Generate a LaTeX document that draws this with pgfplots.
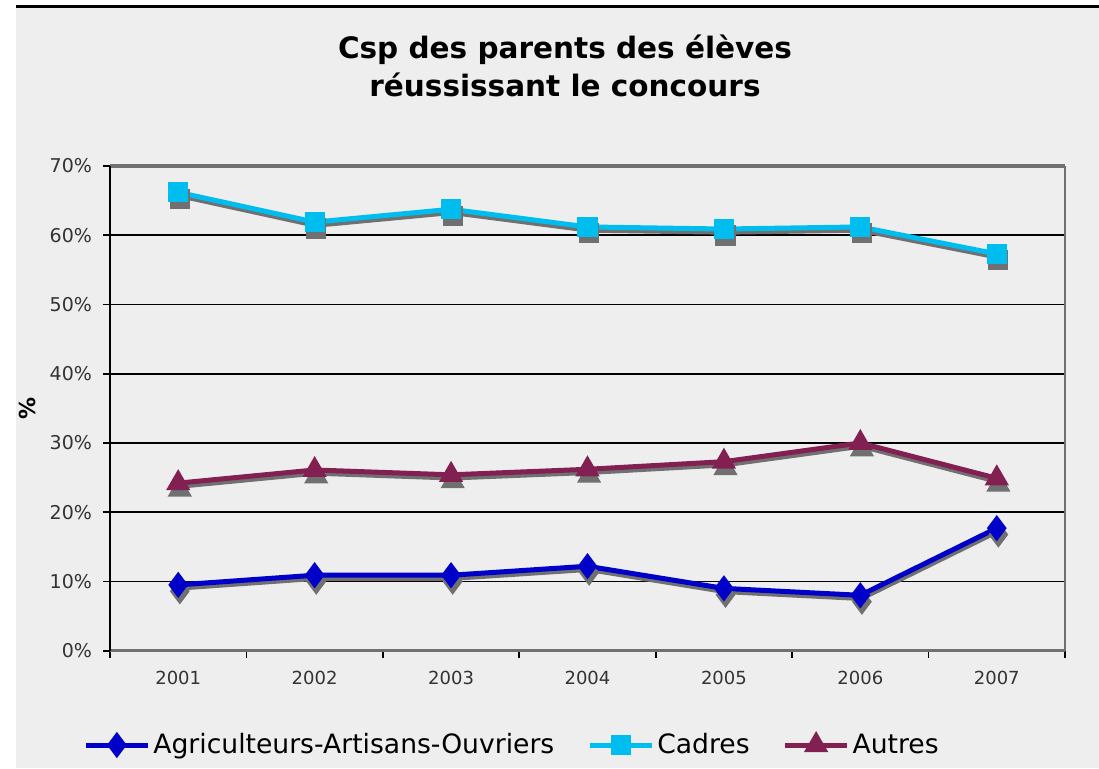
\documentclass[border=0pt]{standalone}
\usepackage{pgfplots}
\pgfplotsset{compat=1.18}
\usepackage{fontspec}
\setmainfont{DejaVu Sans}
\definecolor{bg}{HTML}{EEEEEE}
\definecolor{agri}{HTML}{0000C8}
\definecolor{cadres}{HTML}{00BDEF}
\definecolor{autres}{HTML}{832052}
\definecolor{shad}{HTML}{707070}
\begin{document}
\begin{tikzpicture}
\path[use as bounding box] (0,0) rectangle (549.5pt,384pt);
\fill[bg] (8pt,0) rectangle (549.5pt,380pt);
\draw[black,line width=1.5pt] (8pt,380.5pt) -- (549.5pt,380.5pt);
\node[font=\fontsize{14.75}{19}\selectfont\bfseries,align=center] at (282.5pt,351pt) {Csp des parents des élèves\\réussissant le concours};
\begin{axis}[
  scale only axis,
  width=477.5pt, height=242.35pt,
  at={(55pt,58.65pt)}, anchor=south west,
  xmin=-0.5, xmax=6.5, ymin=0, ymax=70,
  axis background/.style={fill=bg},
  xtick={-0.5,0.5,...,6.5},
  xticklabels={2001,2002,2003,2004,2005,2006,2007},
  x tick label as interval,
  xtick pos=bottom, ytick pos=left,
  ytick={0,10,...,70},
  yticklabel={\pgfmathprintnumber{\tick}\%},
  /pgf/number format/assume math mode=true,
  tick align=outside,
  major tick length=3.5pt,
  tick style={black, line width=0.8pt},
  ymajorgrids,
  grid style={black, line width=0.9pt},
  axis line style={shad, line width=1.2pt},
  separate axis lines,
  y axis line style={shad, line width=1.2pt},
  x axis line style={shad, line width=1.6pt},
  xticklabel style={font=\fontsize{9}{10}\selectfont, text=black!80, yshift=-3pt},
  yticklabel style={font=\fontsize{9.5}{10}\selectfont, text=black!80, xshift=-2pt},
  ylabel={\%},
  ylabel style={font=\fontsize{11}{12}\selectfont\bfseries, at={(axis description cs:-0.0859,0.5)}, anchor=center, rotate=0},
  legend columns=3,
  legend style={draw=none, fill=none, inner sep=0pt, at={(axis description cs:-0.0283,-0.1946)}, anchor=west,
    font=\fontsize{13.3}{14}\selectfont,
    nodes={inner sep=1.5pt},
    /tikz/every even column/.append style={column sep=15pt}},
  legend image code/.code={\draw[#1, mark repeat=2, mark phase=2] plot coordinates {(0pt,0pt) (15.5pt,0pt) (31pt,0pt)};},
  clip=false,
]
\draw[black, line width=1pt] (rel axis cs:0,0) -- (rel axis cs:0,1);
% shadows
\addplot[forget plot, shad, line width=2.5pt, mark=diamond*, mark size=4.5pt, transform canvas={yshift=-1.6pt, xshift=0.4pt}] coordinates {(0,9.5) (1,10.9) (2,10.9) (3,12.2) (4,9.0) (5,8.0) (6,17.7)};
\addplot[forget plot, shad, line width=2.5pt, mark=square*, mark size=3.8pt, transform canvas={yshift=-1.6pt, xshift=0.4pt}] coordinates {(0,66.2) (1,61.9) (2,63.75) (3,61.2) (4,60.9) (5,61.2) (6,57.3)};
\addplot[forget plot, shad, line width=2.5pt, mark=triangle*, mark size=4.5pt, transform canvas={yshift=-1.6pt, xshift=0.4pt}] coordinates {(0,24.2) (1,26.1) (2,25.4) (3,26.2) (4,27.3) (5,30.0) (6,24.9)};
% series
\addplot[agri, line width=2.5pt, mark=diamond*, mark size=4.5pt, mark options={solid}] coordinates {(0,9.5) (1,10.9) (2,10.9) (3,12.2) (4,9.0) (5,8.0) (6,17.7)};
\addlegendentry{Agriculteurs-Artisans-Ouvriers}
\addplot[cadres, line width=2.5pt, mark=square*, mark size=3.8pt] coordinates {(0,66.2) (1,61.9) (2,63.75) (3,61.2) (4,60.9) (5,61.2) (6,57.3)};
\addlegendentry{Cadres}
\addplot[autres, line width=2.5pt, mark=triangle*, mark size=4.5pt] coordinates {(0,24.2) (1,26.1) (2,25.4) (3,26.2) (4,27.3) (5,30.0) (6,24.9)};
\addlegendentry{Autres}
\end{axis}
\end{tikzpicture}
\end{document}
